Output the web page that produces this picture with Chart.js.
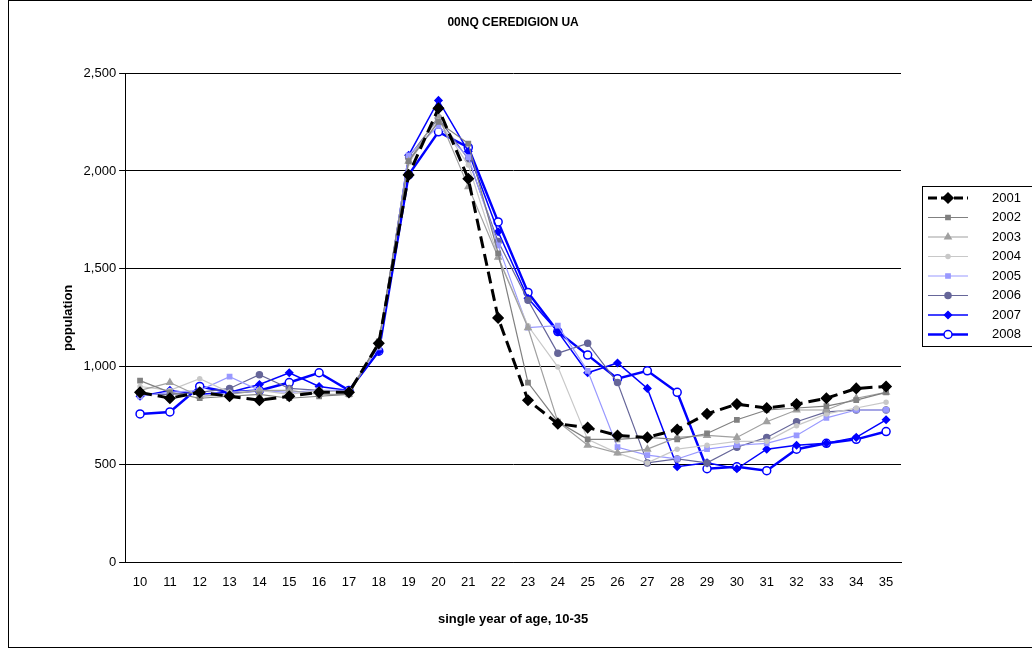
<!DOCTYPE html>
<html>
<head>
<meta charset="utf-8">
<script src="https://cdn.jsdelivr.net/npm/chart.js@4.4.0/dist/chart.umd.min.js"></script>
<style>
  html, body { margin: 0; padding: 0; background: #fff; }
  #wrap { position: absolute; left: 8px; top: 0; width: 1024px; height: 648px; border: 1px solid #000; border-right: none; box-sizing: border-box; }
</style>
</head>
<body>
<div id="wrap"><canvas id="c"></canvas></div>
<script>
const ages = ['10','11','12','13','14','15','16','17','18','19','20','21','22','23','24','25','26','27','28','29','30','31','32','33','34','35'];

const y2001 = [870,840,870,850,830,850,870,870,1120,1980,2320,1960,1250,830,710,690,650,640,680,760,810,790,810,840,890,900];
const y2002 = [930,870,840,850,860,840,850,860,1130,2050,2250,2140,1580,920,720,630,630,640,630,660,730,780,790,800,830,870];
const y2003 = [880,920,850,860,880,880,860,860,1120,2050,2280,1920,1560,1200,720,600,560,580,640,650,640,720,780,780,840,870];
const y2004 = [900,880,940,870,880,860,880,870,1120,2040,2260,2030,1560,1210,1000,630,560,510,580,600,620,620,700,760,790,820];
const y2005 = [850,870,880,950,880,870,880,880,1100,2080,2230,2070,1620,1200,1210,980,590,550,530,580,600,610,650,740,780,780];
const y2006 = [860,860,870,890,960,890,880,870,1120,2070,2270,2060,1640,1340,1070,1120,920,510,530,510,590,640,720,770,780,780];
const y2007 = [850,880,860,870,910,970,900,880,1080,2080,2360,2100,1690,1350,1180,970,1020,890,490,510,480,580,600,610,640,730];
const y2008 = [760,770,900,870,880,920,970,880,1080,1980,2200,2120,1740,1380,1180,1060,940,980,870,480,490,470,580,610,630,670];

const yTicks = [0,500,1000,1500,2000,2500];
const chartTitle = '00NQ CEREDIGION UA';

function ds(label, data, color, style, width, radius, dash, fill) {
  return {
    label: label, data: data,
    borderColor: color, backgroundColor: fill || color,
    pointBackgroundColor: fill || color, pointBorderColor: color,
    pointStyle: style, pointRadius: radius, pointBorderWidth: 1.5,
    borderWidth: width, borderDash: dash || [], tension: 0
  };
}

const datasets = [
  ds('2001', y2001, '#000000', 'rectRot', 3, 5, [12, 6]),
  ds('2002', y2002, '#808080', 'rect', 1.2, 3),
  ds('2003', y2003, '#a0a0a0', 'triangle', 1.2, 3.5),
  ds('2004', y2004, '#c8c8c8', 'circle', 1.2, 2),
  ds('2005', y2005, '#9999ff', 'rect', 1.2, 3),
  ds('2006', y2006, '#666699', 'circle', 1.2, 3),
  ds('2007', y2007, '#0000ff', 'rectRot', 1.5, 3.5),
  ds('2008', y2008, '#0000ff', 'circle', 2.5, 4, null, '#ffffff')
];

// title centred over the plot area, and own legend at the right edge with a frame
const extras = {
  id: 'extras',
  afterDraw(chart) {
    const g = chart.ctx, a = chart.chartArea;
    g.save();
    g.font = 'bold 12px "Liberation Sans", Arial, sans-serif';
    g.textAlign = 'center'; g.textBaseline = 'middle'; g.fillStyle = '#000';
    g.fillText(chartTitle, (a.left + a.right) / 2, 22);

    const x0 = 913, y0 = 185, rowH = 19.5;
    g.textAlign = 'left';
    g.strokeStyle = '#000'; g.lineWidth = 1;
    g.strokeRect(x0 + 0.5, y0 + 0.5, 140, 160);
    g.font = '13px "Liberation Sans", Arial, sans-serif';
    chart.data.datasets.forEach((d, i) => {
      const y = y0 + 12 + i * rowH;
      g.strokeStyle = d.borderColor; g.lineWidth = d.borderWidth;
      g.setLineDash(d.borderDash.length ? [9, 4] : []);
      g.beginPath(); g.moveTo(x0 + 6, y); g.lineTo(x0 + 46, y); g.stroke();
      g.setLineDash([]);
      g.fillStyle = d.pointBackgroundColor; g.strokeStyle = d.borderColor; g.lineWidth = 1.5;
      Chart.helpers.drawPoint(g, { pointStyle: d.pointStyle, radius: d.pointRadius, rotation: 0, borderWidth: 1.5 }, x0 + 26, y);
      g.fillStyle = '#000';
      g.fillText(d.label, x0 + 70, y);
    });
    g.restore();
  }
};

Chart.defaults.font.family = '"Liberation Sans", Arial, sans-serif';
Chart.defaults.color = '#000';

new Chart(document.getElementById('c'), {
  type: 'line',
  data: { labels: ages, datasets: datasets },
  plugins: [extras],
  options: {
    responsive: true, maintainAspectRatio: false, animation: false,
    layout: { padding: { top: 72, right: 131, bottom: 16, left: 48 } },
    plugins: {
      title: { display: false },
      tooltip: { enabled: false },
      legend: { display: false }
    },
    scales: {
      x: {
        offset: true,
        grid: { display: false },
        border: { color: '#000' },
        ticks: { font: { size: 13 }, maxRotation: 0, autoSkip: false, padding: 4 },
        title: { display: true, text: 'single year of age, 10-35', font: { size: 13, weight: 'bold' }, padding: { top: 17 } }
      },
      y: {
        min: 0, max: 2500,
        afterBuildTicks(axis) { axis.ticks = yTicks.map(v => ({ value: v })); },
        grid: { color: '#000', lineWidth: 1, tickLength: 6 },
        border: { color: '#000' },
        ticks: { font: { size: 13 }, callback: v => v.toLocaleString('en-US') },
        title: { display: true, text: 'population', font: { size: 13, weight: 'bold' } }
      }
    }
  }
});
</script>
</body>
</html>
